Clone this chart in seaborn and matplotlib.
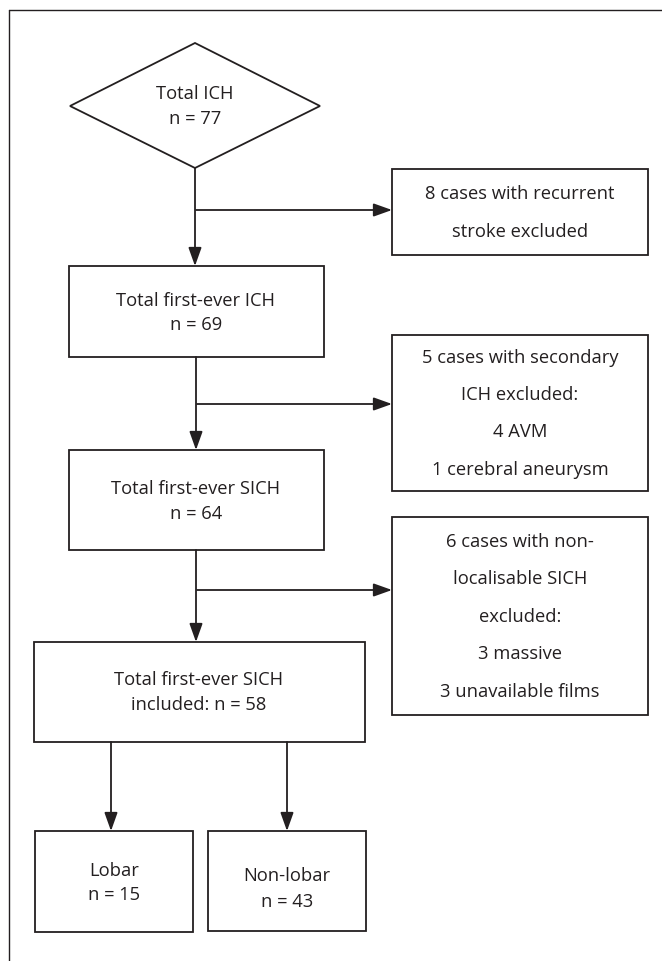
import matplotlib
matplotlib.use("Agg")
import matplotlib.pyplot as plt
import seaborn as sns
from matplotlib.patches import Rectangle, Polygon

# flow counts
n_total = 77
n_first_ever = 69
n_sich = 64
n_included = 58
n_lobar = 15
n_nonlobar = 43

# exclusion boxes text
excl_recurrent = ["8 cases with recurrent", "stroke excluded"]
excl_secondary = ["5 cases with secondary", "ICH excluded:", "4 AVM", "1 cerebral aneurysm"]
excl_nonlocal = ["6 cases with non-", "localisable SICH", "excluded:", "3 massive", "3 unavailable films"]

sns.set_theme(style="white")
plt.rcParams["font.family"] = ["Open Sans", "DejaVu Sans"]

INK = "#231f20"
FS = 13.2
LW = 1.3

fig = plt.figure(figsize=(6.62, 9.61), dpi=100)
ax = fig.add_axes([0, 0, 1, 1])
ax.set_xlim(0, 662)
ax.set_ylim(961, 0)
ax.axis("off")

# outer frame (top + left only visible)
ax.plot([9, 662], [10, 10], color=INK, lw=1.0)
ax.plot([9, 9], [10, 961], color=INK, lw=1.0)


def box(x0, y0, x1, y1):
    ax.add_patch(Rectangle((x0, y0), x1 - x0, y1 - y0, fill=False, ec=INK, lw=LW))


def lines(cx, baselines, texts):
    for yb, t in zip(baselines, texts):
        ax.text(cx, yb, t, ha="center", va="baseline", fontsize=FS, color=INK)


def arrow(x0, y0, x1, y1):
    ax.annotate("", xy=(x1, y1), xytext=(x0, y0),
                arrowprops=dict(arrowstyle="-|>,head_length=0.7,head_width=0.25",
                                color=INK, lw=LW, shrinkA=0, shrinkB=0,
                                mutation_scale=16))


# diamond
ax.add_patch(Polygon([(70, 106), (195, 43), (320, 106), (195, 168)],
                     closed=True, fill=False, ec=INK, lw=LW))
lines(195, [99, 124], ["Total ICH", f"n = {n_total}"])

# main column
box(69, 266, 324, 357)
lines(196, [306, 330], ["Total first-ever ICH", f"n = {n_first_ever}"])
box(69, 450, 324, 550)
lines(196, [494, 519], ["Total first-ever SICH", f"n = {n_sich}"])
box(34, 642, 365, 742)
lines(199, [685, 710], ["Total first-ever SICH", f"included: n = {n_included}"])
box(35, 831, 193, 932)
lines(114, [876, 900], ["Lobar", f"n = {n_lobar}"])
box(208, 831, 366, 931)
lines(287, [881, 907], ["Non-lobar", f"n = {n_nonlobar}"])

# exclusion column
box(392, 169, 648, 255)
lines(520, [199, 237], excl_recurrent)
box(392, 335, 648, 491)
lines(520, [363, 400, 437, 475], excl_secondary)
box(392, 517, 648, 715)
lines(520, [547, 584, 622, 659, 697], excl_nonlocal)

# vertical arrows
arrow(195, 168, 195, 266)
arrow(196, 357, 196, 450)
arrow(196, 550, 196, 642)
arrow(111, 742, 111, 831)
arrow(287, 742, 287, 831)

# horizontal arrows
arrow(196, 210, 392, 210)
arrow(197, 404, 392, 404)
arrow(197, 590, 392, 590)

fig.savefig("out.png", dpi=100, facecolor="white")
